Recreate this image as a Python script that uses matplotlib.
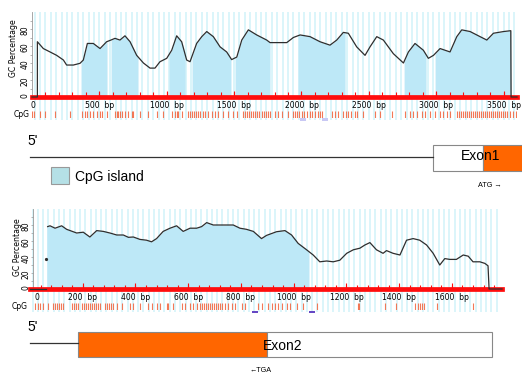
import numpy as np
import matplotlib
matplotlib.use("Agg")
import matplotlib.pyplot as plt
from matplotlib import transforms
from matplotlib.patches import Rectangle

W, H = 522, 374

# --- upstream region / exon 1 (bp) ---
up_pos = [0, 40, 40, 84, 134, 183, 233, 257, 307, 356, 381, 411, 455, 505, 554, 586, 616, 653,
          690, 728, 777, 827, 876, 913, 950, 1000, 1037, 1074, 1111, 1148, 1173, 1222, 1260,
          1297, 1346, 1396, 1445, 1482, 1520, 1557, 1606, 1668, 1742, 1767, 1816, 1891, 1940,
          1990, 2064, 2138, 2212, 2262, 2311, 2348, 2410, 2472, 2509, 2559, 2608, 2682, 2757,
          2794, 2843, 2905, 2942, 2980, 3029, 3066, 3103, 3153, 3190, 3252, 3326, 3376, 3425,
          3500, 3554, 3556, 3600]
up_gc = [0, 0, 65, 57, 53, 49, 43.5, 37.6, 37.6, 39.6, 43.5, 63, 63, 57, 65, 67, 69, 67,
         72, 65, 49, 40, 34, 34, 41.5, 45.5, 55, 72, 65, 43.5, 41.5, 63, 71,
         77, 71, 59, 53, 44, 47, 67, 79, 73, 67, 64, 64, 64, 70,
         73, 71, 65, 61, 67, 76, 75, 59, 49, 59, 71, 67, 51, 40,
         53, 63, 55, 45.5, 49, 57, 55, 53, 71, 79, 77, 71, 67, 75,
         77, 78, 0, 0]
up_islands = [(364, 557), (587, 787), (1017, 1136), (1188, 1477), (1507, 1767),
              (1975, 2324), (2762, 2925), (2992, 3556)]
up_cpg = [0, 15, 59, 97, 171, 282, 371, 394, 408, 431, 453, 483, 505, 520, 557, 616, 631, 639,
          653, 668, 690, 713, 742, 750, 802, 861, 928, 973, 1039, 1062, 1077, 1084, 1114, 1158,
          1173, 1188, 1203, 1218, 1232, 1247, 1270, 1284, 1307, 1336, 1359, 1381, 1418, 1455,
          1492, 1522, 1567, 1581, 1596, 1611, 1626, 1641, 1656, 1670, 1685, 1707, 1722, 1737,
          1752, 1767, 1804, 1826, 1856, 1900, 1938, 1952, 1967, 1982, 2004, 2019, 2042, 2064,
          2079, 2101, 2123, 2138, 2153, 2227, 2249, 2272, 2309, 2331, 2346, 2368, 2398, 2413,
          2457, 2546, 2584, 2673, 2769, 2806, 2829, 2858, 2895, 2918, 2955, 2992, 3029, 3051,
          3081, 3103, 3155, 3170, 3185, 3199, 3214, 3229, 3244, 3259, 3274, 3289, 3304, 3318,
          3333, 3348, 3363, 3378, 3393, 3408, 3423, 3437, 3452, 3467, 3482, 3497, 3512, 3526,
          3549, 3571, 3593]
up_marks = [2012, 2175]
up_ticks = [500, 1000, 1500, 2000, 2500, 3000, 3500]

# --- exon 2 region (bp) ---
ex2_lead = [0, 61]
ex2_first = (61, 38)
ex2_pos = [67, 76, 95, 120, 139, 177, 202, 227, 253, 278, 303, 329, 354, 373, 392, 417, 442,
           461, 480, 505, 531, 556, 581, 607, 632, 651, 670, 695, 720, 746, 771, 796, 821, 847,
           878, 897, 935, 967, 992, 1017, 1049, 1074, 1099, 1125, 1150, 1175, 1201, 1226, 1251,
           1270, 1289, 1314, 1339, 1352, 1377, 1403, 1428, 1453, 1478, 1504, 1529, 1554, 1573,
           1592, 1617, 1643, 1662, 1680, 1706, 1725, 1737, 1741, 1790]
ex2_gc = [78, 79, 76, 79, 74.6, 70, 71, 65, 73, 72, 70, 67.5, 67.5, 64.6, 65, 62, 61,
          59, 63, 72, 76, 79, 72, 76, 76, 78, 83, 80, 80, 80, 80, 76, 74.6, 72,
          63, 67, 71.6, 73, 67.5, 57, 49, 42.5, 34, 35, 34, 36, 44.6, 49, 51,
          55, 58, 49, 44.6, 48, 44.6, 42.5, 61, 63, 61, 55, 44.6, 30, 38,
          37, 37, 42.5, 41, 34, 34, 32, 29, 0, 0]
ex2_islands = [(64, 1058)]
ex2_cpg = [19, 30, 38, 49, 68, 87, 95, 102, 110, 118, 125, 159, 167, 174, 182, 197, 205, 212,
           220, 227, 235, 243, 250, 258, 265, 284, 292, 299, 307, 315, 330, 349, 379, 390, 417,
           447, 462, 481, 493, 519, 523, 542, 576, 588, 607, 618, 633, 644, 652, 660, 667, 675,
           682, 690, 697, 705, 713, 720, 728, 739, 751, 766, 777, 804, 815, 864, 880, 902, 917,
           929, 940, 955, 974, 986, 1012, 1035, 1088, 1243, 1247, 1346, 1387, 1460, 1471, 1478,
           1486, 1494, 1543, 1679]
ex2_marks = [853, 1068]
ex2_ticks = [200, 400, 600, 800, 1000, 1200, 1400, 1600]

STRIPE = "#d8f4fa"
ISLAND = "#bde8f7"
RED = "#ff0d0d"
CPG = "#f26a45"
CURVE = "#2e2e2e"
ORANGE = "#ff6600"

plt.rcParams["font.family"] = "DejaVu Sans"
fig = plt.figure(figsize=(W / 100, H / 100), dpi=100)


def px_axes(x0, y0, x1, y1):
    return fig.add_axes([x0 / W, 1 - y1 / H, (x1 - x0) / W, (y1 - y0) / H])


def gc_panel(x0, x1, y100, y0, xmax, pos, gc, islands, sites, marks, ticks,
             stripe, minor, major, label_y, cpg_y, zero_x, spine_x, ylab_xy, mark_color):
    ppu = (y0 - y100) / 100.0
    # striped background behind plot and CpG row
    bg = px_axes(x0, y100, x1, cpg_y[1] + 1.5)
    bg.set_xlim(0, xmax)
    bg.set_ylim(0, 1)
    bg.axis("off")
    bg.vlines(np.arange(stripe / 2, xmax, stripe), 0, 1, color=STRIPE, lw=1.3)

    ax = px_axes(x0, y100, x1, y0 + 2.5 * ppu)
    ax.patch.set_visible(False)
    ax.set_xlim(0, xmax)
    ax.set_ylim(-2.5, 100)
    for a, b in islands:
        xs = np.r_[a, [p for p in pos if a < p < b], b]
        ax.fill_between(xs, 0, np.interp(xs, pos, gc), color=ISLAND, lw=0, zorder=1)
    ax.axhline(0, color=RED, lw=3.4, clip_on=False, zorder=3)
    ax.vlines(np.arange(minor, xmax, minor), 0, 5.5, color=RED, lw=0.8, zorder=3)
    ax.vlines(np.arange(major, xmax, major), 0, 7.5, color=RED, lw=0.8, zorder=3)
    ax.plot(pos, gc, color=CURVE, lw=0.9, zorder=4, clip_on=False)

    for s in ["top", "right", "bottom"]:
        ax.spines[s].set_visible(False)
    ax.spines["left"].set_color("#999999")
    ax.spines["left"].set_linewidth(0.6)
    ax.spines["left"].set_bounds(0, 100)
    ax.spines["left"].set_position(("data", spine_x))
    ax.set_xticks([])
    ax.set_yticks([0, 20, 40, 60, 80])
    ax.set_yticks(np.arange(10, 100, 20), minor=True)
    ax.tick_params(axis="y", which="both", length=1.5, width=0.5, color="#999999",
                   labelsize=5.5, pad=0.5, labelrotation=90)
    ax.tick_params(axis="y", which="minor", length=1.2)

    tr = transforms.blended_transform_factory(ax.transData, fig.transFigure)
    ly = 1 - label_y / H
    fig.text(zero_x / W, ly, "0", fontsize=5.5, ha="center", va="center")
    for t in ticks:
        ax.text(t, ly, f"{t}  bp", transform=tr, fontsize=5.5, ha="center", va="center")
    fig.text(ylab_xy[0] / W, 1 - ylab_xy[1] / H, "GC Percentage", fontsize=5.6,
             rotation=90, ha="center", va="center")
    fig.text((x0 - 2) / W, 1 - (cpg_y[0] + cpg_y[1]) / 2 / H, "CpG", fontsize=5.5,
             ha="right", va="center")

    row = px_axes(x0, cpg_y[0], x1, cpg_y[1])
    row.set_xlim(0, xmax)
    row.set_ylim(0, 1)
    row.axis("off")
    row.vlines(sites, 0, 1, color=CPG, lw=0.8, alpha=0.9)

    mk = px_axes(x0, cpg_y[1] + 0.5, x1, cpg_y[1] + 3)
    mk.set_xlim(0, xmax)
    mk.set_ylim(0, 1)
    mk.axis("off")
    half = 3.0 / ((x1 - x0) / xmax)
    for m in marks:
        mk.add_patch(Rectangle((m - half, 0), 2 * half, 1, color=mark_color, lw=0))
    return ax


gc_panel(32, 517, 12, 97, 3600, up_pos, up_gc, up_islands, up_cpg, up_marks, up_ticks,
         40, 100, 500, 105.5, (111, 118), 33, 0, (13, 48), "#c8c8f4")
ax2 = gc_panel(30, 502, 209, 289, 1790, ex2_pos, ex2_gc, ex2_islands, ex2_cpg, ex2_marks,
               ex2_ticks, 20, 40, 200, 297.5, (302.5, 310), 37, 13, (17, 247), "#6548c4")
ax2.plot(ex2_lead, [0, 0], color=CURVE, lw=0.9, zorder=4, clip_on=False)
ax2.plot(*ex2_first, "o", color=CURVE, ms=1.3, zorder=4)

# gene structure diagrams drawn in pixel space
d = fig.add_axes([0, 0, 1, 1])
d.set_xlim(0, W)
d.set_ylim(H, 0)
d.axis("off")
d.patch.set_visible(False)
sans = "Liberation Sans"

d.text(27, 141, "5'", fontsize=10, family=sans, ha="left", va="center")
d.plot([30, 433], [156.7, 156.7], color="#333333", lw=0.9)
d.add_patch(Rectangle((433, 145), 50, 25.7, facecolor="white", edgecolor="#888888", lw=0.8))
d.add_patch(Rectangle((483, 145), 45, 25.7, facecolor=ORANGE, edgecolor="#888888", lw=0.8))
d.text(480.5, 156, "Exon1", fontsize=10, family=sans, ha="center", va="center")
d.text(490, 185, "ATG \u2192", fontsize=5.2, family=sans, ha="center", va="center")

d.add_patch(Rectangle((51, 167), 18, 17, facecolor="#b5e0e6", edgecolor="#999999", lw=0.8))
d.text(75, 176.5, "CpG island", fontsize=10, family=sans, ha="left", va="center")

d.text(27, 327, "5'", fontsize=10, family=sans, ha="left", va="center")
d.plot([30, 78], [342.7, 342.7], color="#333333", lw=0.9)
d.add_patch(Rectangle((78, 331.7), 189, 25.6, facecolor=ORANGE, edgecolor="#888888", lw=0.8))
d.add_patch(Rectangle((267, 331.7), 225, 25.6, facecolor="white", edgecolor="#888888", lw=0.8))
d.text(282.5, 346.5, "Exon2", fontsize=10, family=sans, ha="center", va="center")
d.text(261, 371, "\u2190TGA", fontsize=5.2, family=sans, ha="center", va="center")

fig.savefig("out.png", dpi=100, facecolor="white")
